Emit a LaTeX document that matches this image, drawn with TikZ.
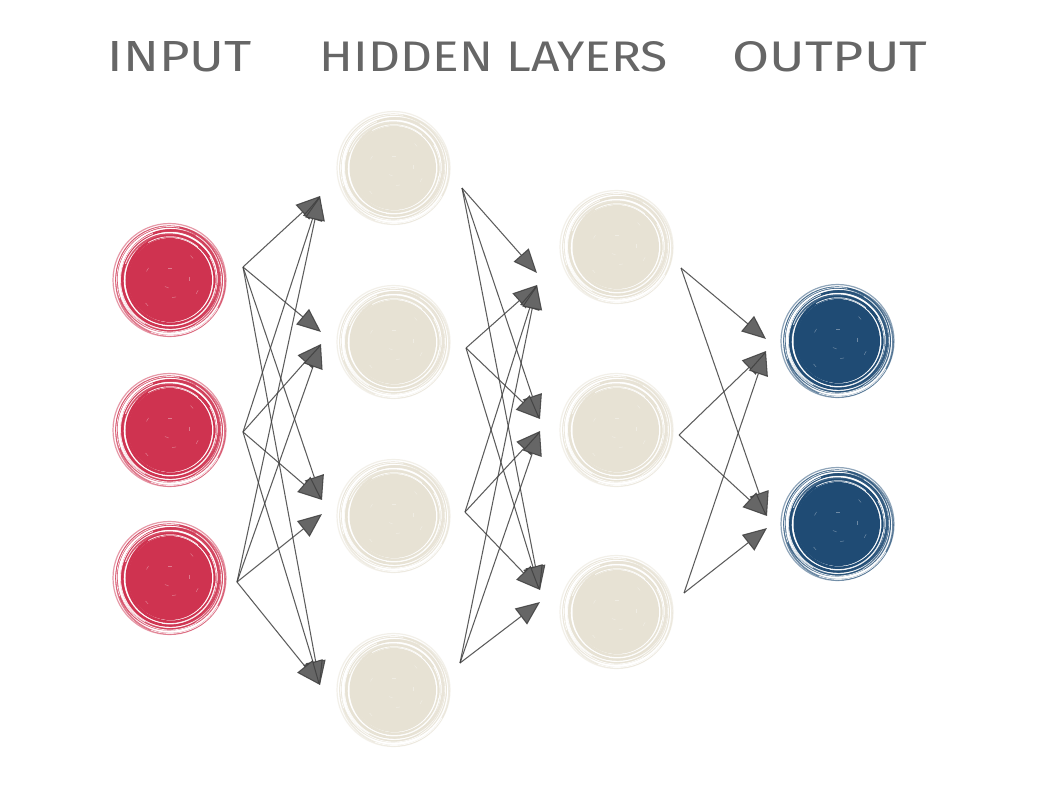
\documentclass[tikz,border=0pt]{standalone}
\usepackage{fontspec}
\setmainfont{Fira Sans}
\usetikzlibrary{arrows.meta}
\definecolor{inred}{HTML}{CF3350}
\definecolor{hidbeige}{HTML}{E7E2D4}
\definecolor{outblue}{HTML}{1F4B74}
\definecolor{titlegray}{HTML}{666666}
\tikzset{
  ballnode/.style={circle, minimum size=114pt, inner sep=0pt},
  conn/.style={draw=black!75, line width=1.05pt, draw opacity=0.85,
    -{Triangle[length=24pt,width=20pt,fill=black!60]}},
  title/.style={text=titlegray, inner sep=0pt, anchor=center}
}
\newcommand{\sketchball}[4]{%
  \node[ballnode] (#1) at (#2,#3) {};
  \fill[#4] (#2,#3) circle (42);
  \foreach \r/\dx/\dy/\w/\o in {44/1/0/3/1, 46.5/-1/1/2.4/0.85, 48.5/0.5/-1/2.6/0.9,
      50.5/1.5/0.5/2/0.75, 52.5/-1/-1/2.2/0.8, 54.5/0.5/1.2/1.6/0.65, 56.5/-0.5/0/1.2/0.5}
    \draw[#4, line width=\w pt, opacity=\o] (#2+\dx,#3+\dy) circle (\r);
  \foreach \a/\b/\r in {10/140/45.5, 200/330/47.5, 90/250/49.5, 300/420/51.5, 160/280/53.5,
      30/110/55.5, 240/310/43.3, 120/200/50.3, 330/460/46, 60/170/52}
    \draw[white, line width=0.8pt, opacity=0.85] (#2,#3) ++(\a:\r) arc (\a:\b:\r);
  \foreach \a/\r in {20/30, 70/18, 130/34, 200/25, 260/12, 310/32, 350/20, 100/8}
    \draw[white, line width=0.5pt, opacity=0.35] (#2,#3) ++(\a:\r) -- ++(\a+100:4);
}
\begin{document}
\begin{tikzpicture}[x=1pt, y=-1pt]
\fill[white] (0,0) rectangle (1052,800);
\useasboundingbox (0,0) rectangle (1052,800);

% titles
\node[title] (tin) at (180,57) {\resizebox{144pt}{30pt}{INPUT}};
\node[title] (thid) at (494,57) {\resizebox{348pt}{30pt}{HIDDEN LAYERS}};
\node[title] (tout) at (830,57) {\resizebox{195pt}{30pt}{OUTPUT}};

% neurons
\sketchball{i1}{170}{280}{inred}
\sketchball{i2}{170}{430}{inred}
\sketchball{i3}{170}{578}{inred}
\sketchball{h1}{394}{168}{hidbeige}
\sketchball{h2}{394}{342}{hidbeige}
\sketchball{h3}{394}{516}{hidbeige}
\sketchball{h4}{394}{690}{hidbeige}
\sketchball{g1}{617}{247}{hidbeige}
\sketchball{g2}{617}{430}{hidbeige}
\sketchball{g3}{617}{612}{hidbeige}
\sketchball{o1}{838}{341}{outblue}
\sketchball{o2}{838}{524}{outblue}

% connector ends
\coordinate (i1s) at (243,267);
\coordinate (i2s) at (243,432);
\coordinate (i3s) at (237,582);
\coordinate (h1t) at (320,190);
\coordinate (h2t) at (321,338);
\coordinate (h3t) at (322,507);
\coordinate (h4t) at (320,691);
\coordinate (h1s) at (462,188);
\coordinate (h2s) at (466,348);
\coordinate (h3s) at (465,512);
\coordinate (h4s) at (460,663);
\coordinate (g1t) at (537,279);
\coordinate (g2t) at (540,425);
\coordinate (g3t) at (540,596);
\coordinate (g1s) at (681,268);
\coordinate (g2s) at (679,435);
\coordinate (g3s) at (684,593);
\coordinate (o1t) at (766,345);
\coordinate (o2t) at (767,522);

\foreach \s/\t/\d in {i1s/h1t/-6, i1s/h2t/6, i1s/h3t/7, i1s/h4t/6,
    i2s/h1t/-6, i2s/h2t/-6, i2s/h3t/7, i2s/h4t/6,
    i3s/h1t/-6, i3s/h2t/-6, i3s/h3t/-7, i3s/h4t/6,
    h1s/g1t/6, h1s/g2t/6, h1s/g3t/6,
    h2s/g1t/-6, h2s/g2t/6, h2s/g3t/6,
    h3s/g1t/-6, h3s/g2t/-6, h3s/g3t/6,
    h4s/g1t/-6, h4s/g2t/-6, h4s/g3t/-6,
    g1s/o1t/6, g1s/o2t/6,
    g2s/o1t/-6, g2s/o2t/6,
    g3s/o1t/-6, g3s/o2t/-6}
  \draw[conn] (\s) -- ([yshift=\d pt]\t);
\end{tikzpicture}
\end{document}
